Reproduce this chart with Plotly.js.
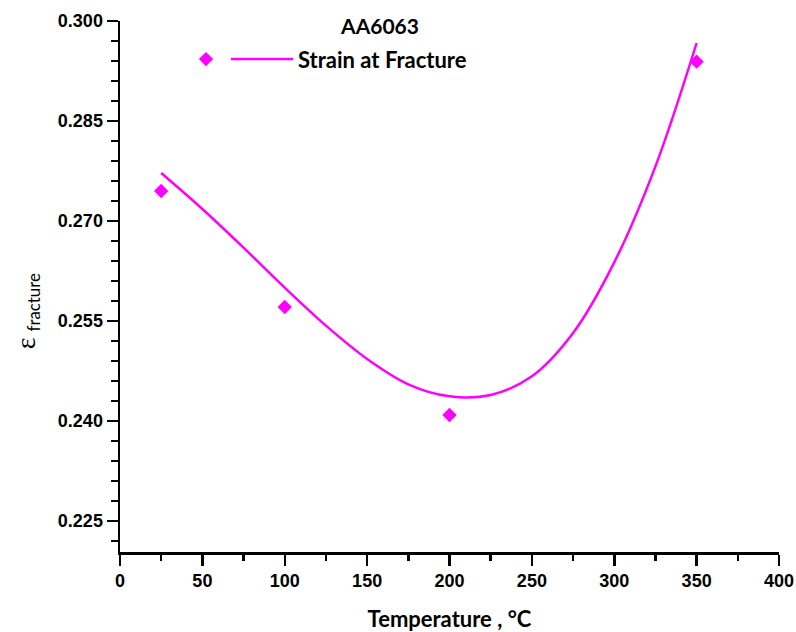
<!DOCTYPE html>
<html>
<head>
<meta charset="utf-8">
<script src="https://cdn.plot.ly/plotly-3.0.1.min.js"></script>
<style>html,body{margin:0;padding:0;background:#fff;}#chart{width:796px;height:632px;}</style>
</head>
<body>
<div id="chart"></div>
<script>
// Measured data points
var temperature = [25, 100, 200, 350];
var strainFracture = [0.2745, 0.2571, 0.2409, 0.2939];

// Fitted curve
var fitTemperature = [25, 50, 75, 100, 125, 150, 175, 200, 225, 250, 275, 300, 325, 350];
var fitStrain = [0.2772, 0.2718, 0.2660, 0.2600, 0.2543, 0.2493, 0.2455, 0.2437, 0.2439, 0.2467, 0.2532, 0.2638, 0.2782, 0.2967];

var seriesName = 'Strain at Fracture';
var chartTitle = 'AA6063';
var xTitle = 'Temperature , °C';
var yTitle = '<span style="font-family:\'Liberation Serif\';font-size:28px">ε</span> <sub>fracture</sub>';

var magenta = '#ff00ff';
var boldFont = {family: 'Lato, "Liberation Sans", sans-serif', size: 22, color: '#000', weight: 700};

var traces = [
  {
    x: fitTemperature, y: fitStrain, type: 'scatter', mode: 'lines',
    line: {color: magenta, width: 2.5, shape: 'spline', smoothing: 1},
    name: seriesName, legend: 'legend', hoverinfo: 'skip'
  },
  {
    x: temperature, y: strainFracture, type: 'scatter', mode: 'markers',
    marker: {symbol: 'diamond', size: 11, color: magenta},
    name: ' ', legend: 'legend2'
  }
];

var axisCommon = {
  showgrid: false, zeroline: false, showline: true, linecolor: '#000', linewidth: 2.5,
  ticks: 'outside', ticklen: 11, tickwidth: 2.5, tickcolor: '#000',
  tickfont: {family: '"Liberation Sans", Arial, sans-serif', size: 18, color: '#000', weight: 700},
  mirror: false
};

var layout = {
  width: 796, height: 632,
  margin: {l: 120, r: 17, t: 21, b: 80, pad: 0},
  paper_bgcolor: '#fff', plot_bgcolor: '#fff',
  title: {text: chartTitle, font: Object.assign({}, boldFont, {size: 21}), x: 380 / 796, xanchor: 'center', y: 1 - 27 / 632, yanchor: 'middle', xref: 'container', yref: 'container'},
  xaxis: Object.assign({}, axisCommon, {
    range: [0, 400], tick0: 0, dtick: 50, tickmode: 'linear',
    minor: {dtick: 25, tick0: 0, ticks: 'outside', ticklen: 6, tickwidth: 2.5, tickcolor: '#000'},
    title: {text: xTitle, font: boldFont, standoff: 23}
  }),
  yaxis: Object.assign({}, axisCommon, {
    range: [0.22035, 0.300], tick0: 0.225, dtick: 0.015, tickmode: 'linear', tickformat: '.3f',
    minor: {dtick: 0.003, tick0: 0.225, ticks: 'outside', ticklen: 7, tickwidth: 2.5, tickcolor: '#000'}
  }),
  annotations: [{
    text: yTitle, textangle: -90, showarrow: false,
    xref: 'paper', yref: 'paper', x: (27 - 120) / 659, y: (551.7 - 311) / 531,
    xanchor: 'center', yanchor: 'middle',
    font: {family: 'Lato, "Liberation Sans", sans-serif', size: 24, color: '#000'}
  }],
  showlegend: true,
  legend: {x: (226 - 120) / 659, xanchor: 'left', y: (551.7 - 59) / 531, yanchor: 'middle', bgcolor: 'rgba(0,0,0,0)', borderwidth: 0, font: boldFont, itemwidth: 62},
  legend2: {x: (186 - 120) / 659, xanchor: 'left', y: (551.7 - 59) / 531, yanchor: 'middle', bgcolor: 'rgba(0,0,0,0)', borderwidth: 0, font: boldFont}
};

Plotly.newPlot('chart', traces, layout, {displayModeBar: false, staticPlot: true});
</script>
</body>
</html>
